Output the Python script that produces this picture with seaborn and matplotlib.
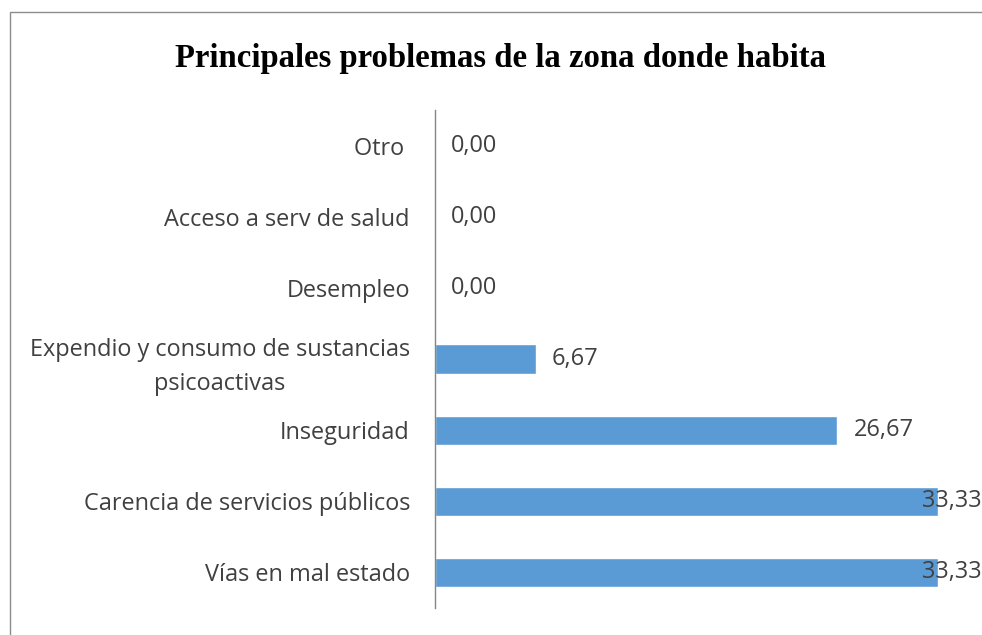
import matplotlib
matplotlib.use("Agg")
import matplotlib.pyplot as plt
import seaborn as sns
import pandas as pd
from matplotlib.patches import Rectangle

categories = ["Otro ", "Acceso a serv de salud", "Desempleo",
              "Expendio y consumo de sustancias\npsicoactivas",
              "Inseguridad", "Carencia de servicios públicos", "Vías en mal estado"]
values = [0.00, 0.00, 0.00, 6.67, 26.67, 33.33, 33.33]
title = "Principales problemas de la zona donde habita"

df = pd.DataFrame({"cat": categories, "val": values})

sns.set_theme(style="white")
plt.rcParams["font.family"] = ["Open Sans", "DejaVu Sans"]

W, H = 982, 635
fig = plt.figure(figsize=(W / 100, H / 100), dpi=100)

# outer chart frame (partially cropped)
fig.patches.append(Rectangle((10 / W, -0.1), 2.0, 1 - 12 / H + 0.1,
                             transform=fig.transFigure, fill=False,
                             edgecolor="#8c8c8c", linewidth=1.0))

xmax = 36.0
px_per_unit = 15.09
ax_left, ax_top, ax_bot = 435, 110, 608
ax = fig.add_axes([ax_left / W, 1 - ax_bot / H, xmax * px_per_unit / W, (ax_bot - ax_top) / H])

sns.barplot(data=df, x="val", y="cat", orient="h", color="#5B9BD5",
            width=0.41, saturation=1, ax=ax)
ax.set_xlim(0, xmax)
ax.set_ylim(len(categories) - 0.5, -0.5)
ax.set_xlabel("")
ax.set_ylabel("")
ax.set_xticks([])
for s in ["top", "right", "bottom"]:
    ax.spines[s].set_visible(False)
ax.spines["left"].set_color("#868686")
ax.spines["left"].set_linewidth(1.0)
ax.tick_params(axis="y", length=0, pad=18, labelsize=16.9, labelcolor="#404040")
for lab in ax.get_yticklabels():
    lab.set_multialignment("center")
    lab.set_linespacing(1.55)

cap = 32.25
for i, v in enumerate(values):
    pos = v + 16 / px_per_unit
    if pos > cap:
        pos = cap
    ax.text(pos, i, f"{v:.2f}".replace(".", ","), va="center", ha="left",
            fontsize=16.9, color="#404040", clip_on=False)

fig.text(0.5 * (175 + 826) / W, 1 - 58 / H, title, ha="center", va="center",
         fontsize=23.6, fontweight="bold", family="Liberation Serif", color="black")

fig.savefig("out.png", dpi=100)
